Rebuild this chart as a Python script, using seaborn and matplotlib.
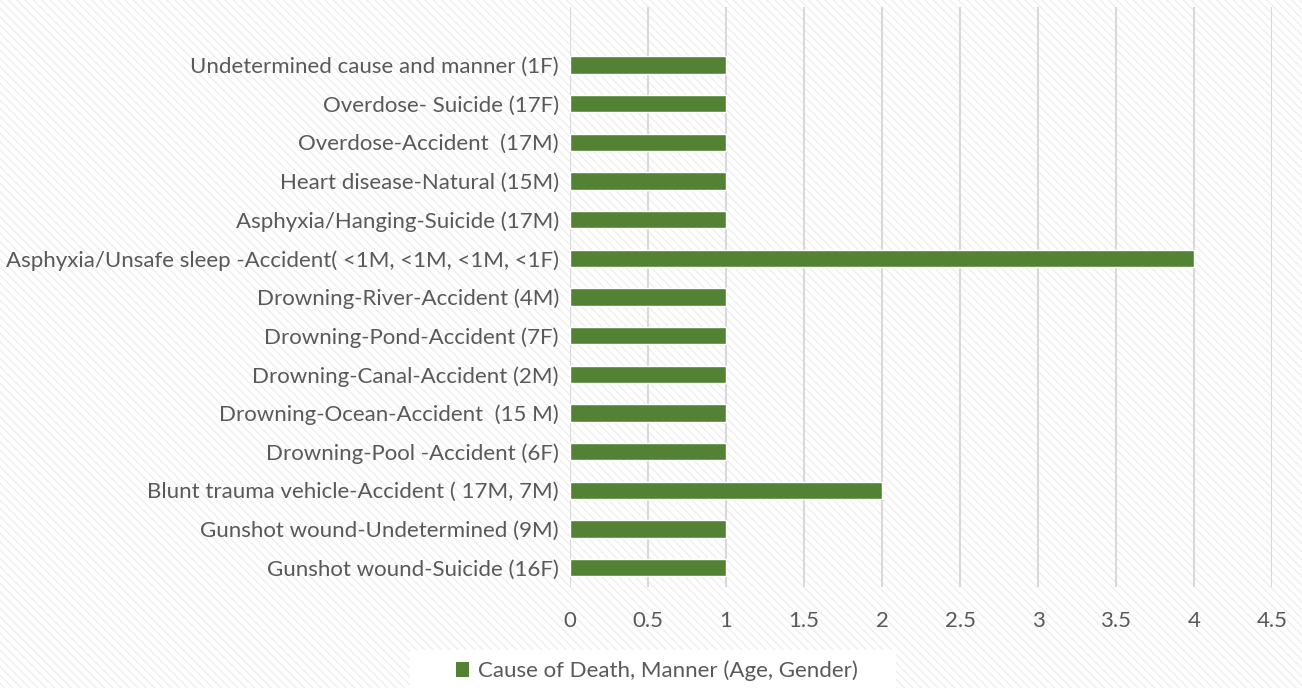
import matplotlib
matplotlib.use("Agg")
import matplotlib.pyplot as plt
from matplotlib.patches import Rectangle, Patch
import pandas as pd
import seaborn as sns

# =========================
# DATA
# =========================
causes = [
    "Undetermined cause and manner (1F)",
    "Overdose- Suicide (17F)",
    "Overdose-Accident  (17M)",
    "Heart disease-Natural (15M)",
    "Asphyxia/Hanging-Suicide (17M)",
    "Asphyxia/Unsafe sleep -Accident( <1M, <1M, <1M, <1F)",
    "Drowning-River-Accident (4M)",
    "Drowning-Pond-Accident (7F)",
    "Drowning-Canal-Accident (2M)",
    "Drowning-Ocean-Accident  (15 M)",
    "Drowning-Pool -Accident (6F)",
    "Blunt trauma vehicle-Accident ( 17M, 7M)",
    "Gunshot wound-Undetermined (9M)",
    "Gunshot wound-Suicide (16F)",
]
counts = [1, 1, 1, 1, 1, 4, 1, 1, 1, 1, 1, 2, 1, 1]
x_ticks = [0, 0.5, 1, 1.5, 2, 2.5, 3, 3.5, 4, 4.5]
x_tick_labels = ["0", "0.5", "1", "1.5", "2", "2.5", "3", "3.5", "4", "4.5"]
series_name = "Cause of Death, Manner (Age, Gender)"

BAR_COLOR = "#548235"
TEXT_COLOR = "#595959"
GRID_COLOR = "#d9d9d9"

# =========================
# GLOBAL SETTINGS
# =========================
sns.set_theme(style="white")
plt.rcParams["font.family"] = ["Lato", "DejaVu Sans"]
plt.rcParams["hatch.color"] = "#efefef"
plt.rcParams["hatch.linewidth"] = 1.0

df = pd.DataFrame({"cause": causes, "count": counts})

fig = plt.figure(figsize=(13.02, 6.88), dpi=100)
fig.patch.set_facecolor("white")

# diagonal stripe background
fig.patches.append(Rectangle((0, 0), 1, 1, transform=fig.transFigure,
                             facecolor="white", edgecolor="#efefef",
                             hatch="\\\\\\\\", linewidth=0, zorder=-10))
# white legend box
fig.patches.append(Rectangle((410 / 1302, 0), 486 / 1302, 38 / 688,
                             transform=fig.transFigure, facecolor="white",
                             edgecolor="none", zorder=-5))

ax = fig.add_axes([570 / 1302, 1 - 587 / 688, (1272 - 570) / 1302, 580 / 688])
ax.patch.set_alpha(0)

sns.barplot(
    data=df,
    x="count",
    y="cause",
    orient="h",
    color=BAR_COLOR,
    width=0.45,
    edgecolor="white",
    linewidth=1,
    saturation=1,
    ax=ax,
)

ax.set_xlim(0, 4.5)
ax.set_ylim(len(causes) - 0.5, -1.5)
ax.set_xticks(x_ticks)
ax.set_xticklabels(x_tick_labels)
ax.xaxis.grid(True, color=GRID_COLOR, linewidth=1.5)
ax.set_axisbelow(True)
for side in ax.spines.values():
    side.set_visible(False)
ax.set_xlabel("")
ax.set_ylabel("")
ax.tick_params(axis="both", length=0, labelsize=16, labelcolor=TEXT_COLOR)
ax.tick_params(axis="y", pad=8)
ax.tick_params(axis="x", pad=17)

fig.legend(
    handles=[Patch(facecolor=BAR_COLOR, edgecolor="none", label=series_name)],
    loc="center",
    bbox_to_anchor=(657 / 1302, 1 - 671 / 688),
    frameon=False,
    fontsize=16,
    labelcolor=TEXT_COLOR,
    handlelength=0.6,
    handleheight=0.6,
    handletextpad=0.4,
)

fig.savefig("out.png", dpi=100)
